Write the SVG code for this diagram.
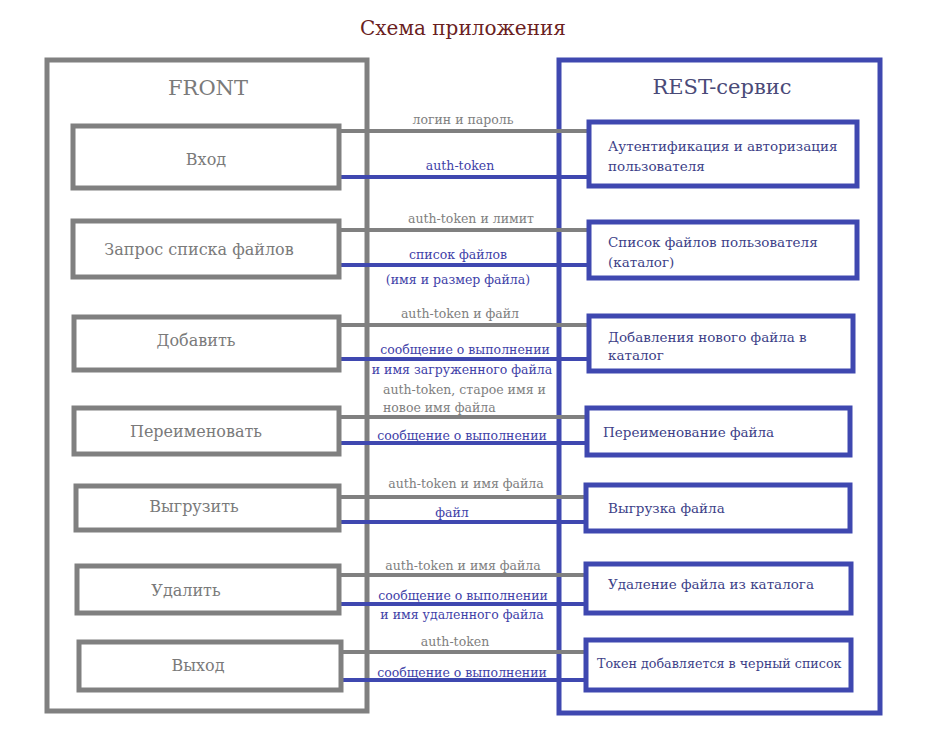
<svg xmlns="http://www.w3.org/2000/svg" width="925" height="736" viewBox="0 0 925 736">
<style>
text{font-family:"DejaVu Serif","Liberation Serif",serif}
.gbox{fill:#fff;stroke:#808080;stroke-width:5}
.bbox{fill:#fff;stroke:#3f48b0;stroke-width:5}
.gcont{fill:#fff;stroke:#808080;stroke-width:5}
.bcont{fill:#fff;stroke:#3f48b0;stroke-width:5}
.gl{stroke:#808080;stroke-width:4;fill:none}
.bl{stroke:#3f48b0;stroke-width:4;fill:none}
.lt{font-size:16px;fill:#7a7a7a;text-anchor:middle}
.rt{font-size:13.5px;fill:#3d3f88}
.gt{font-size:12.5px;fill:#808080;text-anchor:middle}
.bt{font-size:12.5px;fill:#3f42a8;text-anchor:middle}
</style>
<rect width="925" height="736" fill="#fff"/>
<text x="463" y="35" style="font-size:20px;fill:#6b1f1f;text-anchor:middle">Схема приложения</text>
<g id="rest">
<rect class="bcont" x="559" y="60" width="321" height="653"/>
<text x="722" y="94" style="font-size:21px;fill:#4a4a78;text-anchor:middle">REST-сервис</text>
</g>
<g id="front">
<rect class="gcont" x="47" y="60" width="320" height="651"/>
<text x="208" y="95" style="font-size:21px;fill:#7a7a7a;text-anchor:middle">FRONT</text>
</g>
<g id="connectors">
<line class="gl" x1="341" y1="131" x2="589" y2="131"/>
<line class="bl" x1="341" y1="177" x2="589" y2="177"/>
<line class="gl" x1="341" y1="230" x2="589" y2="230"/>
<line class="bl" x1="341" y1="265" x2="589" y2="265"/>
<line class="gl" x1="341" y1="325" x2="589" y2="325"/>
<line class="bl" x1="341" y1="359" x2="589" y2="359"/>
<line class="gl" x1="341" y1="417" x2="587" y2="417"/>
<line class="bl" x1="341" y1="443" x2="587" y2="443"/>
<line class="gl" x1="341" y1="497" x2="586" y2="497"/>
<line class="bl" x1="341" y1="522" x2="586" y2="522"/>
<line class="gl" x1="341" y1="575" x2="586" y2="575"/>
<line class="bl" x1="341" y1="604" x2="586" y2="604"/>
<line class="gl" x1="341" y1="652" x2="586" y2="652"/>
<line class="bl" x1="341" y1="680" x2="586" y2="680"/>
<text class="gt" x="463" y="124">логин и пароль</text>
<text class="bt" x="460" y="170">auth-token</text>
<text class="gt" x="471" y="223">auth-token  и лимит</text>
<text class="bt" x="458" y="259">список файлов</text>
<text class="bt" x="458" y="284">(имя и размер файла)</text>
<text class="gt" x="460" y="318">auth-token и файл</text>
<text class="bt" x="465" y="354">сообщение о выполнении</text>
<text class="bt" x="462" y="374">и имя загруженного файла</text>
<text class="gt" x="383" y="394" style="text-anchor:start">auth-token, старое имя и</text>
<text class="gt" x="383" y="412" style="text-anchor:start">новое имя файла</text>
<text class="bt" x="462" y="440">сообщение о выполнении</text>
<text class="gt" x="466" y="488">auth-token и имя файла</text>
<text class="bt" x="452" y="517">файл</text>
<text class="gt" x="463" y="570">auth-token и имя файла</text>
<text class="bt" x="463" y="600">сообщение о выполнении</text>
<text class="bt" x="462" y="619">и имя удаленного файла</text>
<text class="gt" x="455" y="646">auth-token</text>
<text class="bt" x="462" y="677">сообщение о выполнении</text>
</g>
<g id="f-login"><rect class="gbox" x="73" y="126" width="266" height="62"/><text class="lt" x="206" y="165">Вход</text></g>
<g id="f-list"><rect class="gbox" x="73" y="221" width="266" height="56"/><text class="lt" x="199" y="255">Запрос списка файлов</text></g>
<g id="f-add"><rect class="gbox" x="74" y="317" width="265" height="53"/><text class="lt" x="196" y="346">Добавить</text></g>
<g id="f-rename"><rect class="gbox" x="74" y="408" width="265" height="46"/><text class="lt" x="196" y="437">Переименовать</text></g>
<g id="f-download"><rect class="gbox" x="76" y="486" width="263" height="44"/><text class="lt" x="194" y="512">Выгрузить</text></g>
<g id="f-delete"><rect class="gbox" x="77" y="566" width="262" height="47"/><text class="lt" x="186" y="596">Удалить</text></g>
<g id="f-logout"><rect class="gbox" x="79" y="642" width="262" height="48"/><text class="lt" x="198" y="671">Выход</text></g>
<g id="r-auth"><rect class="bbox" x="589" y="122" width="268" height="64"/><text class="rt" x="608" y="151">Аутентификация и авторизация</text><text class="rt" x="608" y="171">пользователя</text></g>
<g id="r-list"><rect class="bbox" x="589" y="222" width="268" height="56"/><text class="rt" x="608" y="247">Список файлов пользователя</text><text class="rt" x="608" y="267">(каталог)</text></g>
<g id="r-add"><rect class="bbox" x="589" y="316" width="264" height="55"/><text class="rt" x="608" y="342">Добавления нового файла в</text><text class="rt" x="608" y="360">каталог</text></g>
<g id="r-rename"><rect class="bbox" x="587" y="408" width="263" height="47"/><text class="rt" x="603" y="437">Переименование файла</text></g>
<g id="r-download"><rect class="bbox" x="586" y="485" width="264" height="46"/><text class="rt" x="608" y="513">Выгрузка файла</text></g>
<g id="r-delete"><rect class="bbox" x="586" y="564" width="265" height="49"/><text class="rt" x="608" y="589">Удаление файла из каталога</text></g>
<g id="r-logout"><rect class="bbox" x="586" y="640" width="265" height="50"/><text class="rt" x="597" y="668" style="font-size:12.7px">Токен добавляется в черный список</text></g>
</svg>
